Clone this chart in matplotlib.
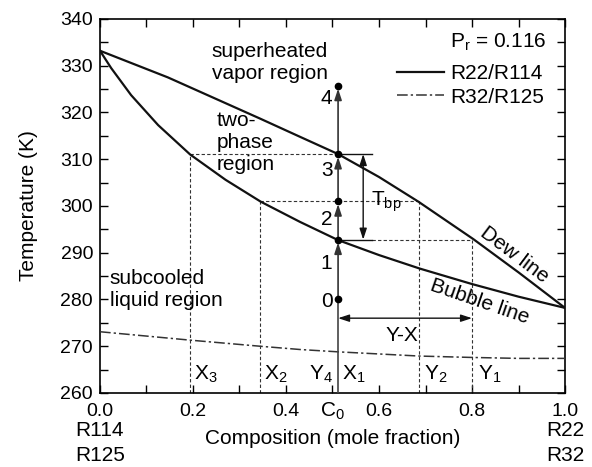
import numpy as np
import matplotlib
matplotlib.use("Agg")
import matplotlib.pyplot as plt
from matplotlib.ticker import MultipleLocator
import matplotlib.transforms as mtransforms

plt.rcParams['font.family'] = ['Liberation Sans', 'DejaVu Sans']
plt.rcParams['mathtext.fontset'] = 'custom'
plt.rcParams['mathtext.rm'] = 'Liberation Sans'
plt.rcParams['mathtext.it'] = 'Liberation Sans'

# curves
x_dew = [0.0, 0.146, 0.344, 0.43, 0.512, 0.6, 0.685, 0.803, 0.9, 1.0]
t_dew = [333.2, 327.5, 318.7, 314.8, 311.1, 306.2, 300.9, 292.9, 285.8, 278.2]

x_bub = [0.0, 0.024, 0.067, 0.125, 0.194, 0.27, 0.346, 0.43, 0.512, 0.6, 0.688, 0.8, 0.9, 1.0]
t_bub = [333.2, 329.5, 323.7, 317.3, 311.0, 305.6, 300.9, 296.6, 292.7, 289.5, 286.6, 283.3, 280.6, 278.2]

x_r32 = [0.0, 0.194, 0.344, 0.43, 0.512, 0.686, 0.8, 0.9, 1.0]
t_r32 = [273.1, 271.3, 270.0, 269.3, 268.8, 267.9, 267.6, 267.4, 267.4]

# process at composition C0
c0 = 0.512
state_t = [280.0, 292.8, 301.0, 311.1, 325.7]
state_lbl = ['0', '1', '2', '3', '4']
x3, x2, y2, y1 = 0.194, 0.344, 0.686, 0.8
tbp_x = 0.566
tick_end = 0.586
yx_t = 276.0

fig = plt.figure(figsize=(5.92, 4.67), dpi=100)
ax = fig.add_axes([0.1689, 0.1585, 0.7855, 0.8009])

l1, = ax.plot(x_dew, t_dew, color='#111111', lw=1.6, zorder=3)
ax.plot(x_bub, t_bub, color='#111111', lw=1.6, zorder=3)
l2, = ax.plot(x_r32, t_r32, color='#333333', lw=1.1, linestyle=(0, (7, 2, 1.5, 2)), zorder=3)

dash = dict(color='#333333', lw=0.8, linestyle=(0, (3, 2)), zorder=2)
ax.plot([x3, x3], [260, state_t[3]], **dash)
ax.plot([x2, x2], [260, state_t[2]], **dash)
ax.plot([y2, y2], [260, state_t[2]], **dash)
ax.plot([y1, y1], [260, state_t[1]], **dash)
ax.plot([x3, c0], [state_t[3], state_t[3]], **dash)
ax.plot([x2, y2], [state_t[2], state_t[2]], **dash)
ax.plot([tick_end, y1], [state_t[1], state_t[1]], **dash)
ax.plot([c0, tick_end], [state_t[3], state_t[3]], color='#111111', lw=1.0)
ax.plot([c0, tick_end], [state_t[1], state_t[1]], color='#111111', lw=1.0)

# heating path
ax.plot([c0, c0], [260, state_t[0]], color='#444444', lw=1.2, zorder=4)
for i in range(len(state_t) - 1):
    ax.annotate('', xy=(c0, state_t[i + 1] - 0.6), xytext=(c0, state_t[i]),
                arrowprops=dict(arrowstyle='-|>,head_length=0.55,head_width=0.18',
                                color='#333333', lw=1.2, shrinkA=0, shrinkB=0,
                                mutation_scale=12), zorder=4)
ax.plot([c0] * len(state_t), state_t, 'o', color='black', ms=4.5, zorder=5)
lbl_t = [279.5, 287.7, 297.2, 307.6, 323.0]
for s, t in zip(state_lbl, lbl_t):
    ax.text(c0 - 0.012, t, s, fontsize=15, ha='right', va='center')

# T_bp and Y-X arrows
arr2 = dict(arrowstyle='<|-|>,head_length=0.55,head_width=0.18', color='#111111',
            lw=1.0, shrinkA=0, shrinkB=0, mutation_scale=12)
ax.annotate('', xy=(tbp_x, state_t[1]), xytext=(tbp_x, state_t[3]), arrowprops=arr2)
ax.text(0.583, 301.0, r'T$_\mathregular{bp}$', fontsize=15, ha='left', va='center')
ax.annotate('', xy=(c0, yx_t), xytext=(y1, yx_t), arrowprops=arr2)
ax.text(0.649, 272.4, 'Y-X', fontsize=15, ha='center', va='center')

# composition labels
for s, x in [('X$_3$', 0.203), ('X$_2$', 0.353), ('Y$_4$', 0.449), ('X$_1$', 0.521),
             ('Y$_2$', 0.697), ('Y$_1$', 0.812)]:
    ax.text(x, 263.9, s, fontsize=15, ha='left', va='center')

# region labels
ax.text(0.24, 330.6, 'superheated\nvapor region', fontsize=15, ha='left', va='center', linespacing=1.2)
ax.text(0.251, 313.5, 'two-\nphase\nregion', fontsize=15, ha='left', va='center', linespacing=1.2)
ax.text(0.021, 282.2, 'subcooled\nliquid region', fontsize=15, ha='left', va='center', linespacing=1.2)
ax.text(0.892, 289.5, 'Dew line', fontsize=15, ha='center', va='center', rotation=-37)
ax.text(0.817, 279.5, 'Bubble line', fontsize=15, ha='center', va='center', rotation=-19)

# legend
ax.text(0.961, 334.9, r'P$_\mathregular{r}$ = 0.116', fontsize=15, ha='right', va='center')
ax.legend([l1, l2], ['R22/R114', 'R32/R125'], loc='upper right', bbox_to_anchor=(0.983, 0.912),
          frameon=False, fontsize=15, handlelength=2.3, handletextpad=0.3,
          labelspacing=0.2, borderaxespad=0.2)

ax.set_xlim(0, 1)
ax.set_ylim(260, 340)
ax.xaxis.set_major_locator(MultipleLocator(0.2))
ax.xaxis.set_minor_locator(MultipleLocator(0.1))
ax.yaxis.set_major_locator(MultipleLocator(10))
ax.yaxis.set_minor_locator(MultipleLocator(5))
ax.set_xticks(np.arange(0, 1.01, 0.2))
ax.set_xticklabels(['%.1f' % v for v in np.arange(0, 1.01, 0.2)])
ax.tick_params(which='both', direction='in', top=True, right=True, length=6, width=1.0,
               labelsize=14)
ax.tick_params(axis='x', pad=7)
ax.tick_params(axis='y', pad=5)
for sp in ax.spines.values():
    sp.set_linewidth(1.2)

ax.set_xlabel('Composition (mole fraction)', fontsize=15, labelpad=7)
ax.set_ylabel('Temperature (K)', fontsize=15, labelpad=16)

trans = mtransforms.blended_transform_factory(ax.transData, ax.transAxes)
ax.text(c0 - 0.012, -0.048, 'C$_0$', fontsize=15, ha='center', va='center', transform=trans)
ax.text(0.0, -0.099, 'R114', fontsize=15, ha='center', va='center', transform=trans)
ax.text(0.0, -0.168, 'R125', fontsize=15, ha='center', va='center', transform=trans)
ax.text(1.0, -0.099, 'R22', fontsize=15, ha='center', va='center', transform=trans)
ax.text(1.0, -0.168, 'R32', fontsize=15, ha='center', va='center', transform=trans)

fig.savefig('out.png', dpi=100)
